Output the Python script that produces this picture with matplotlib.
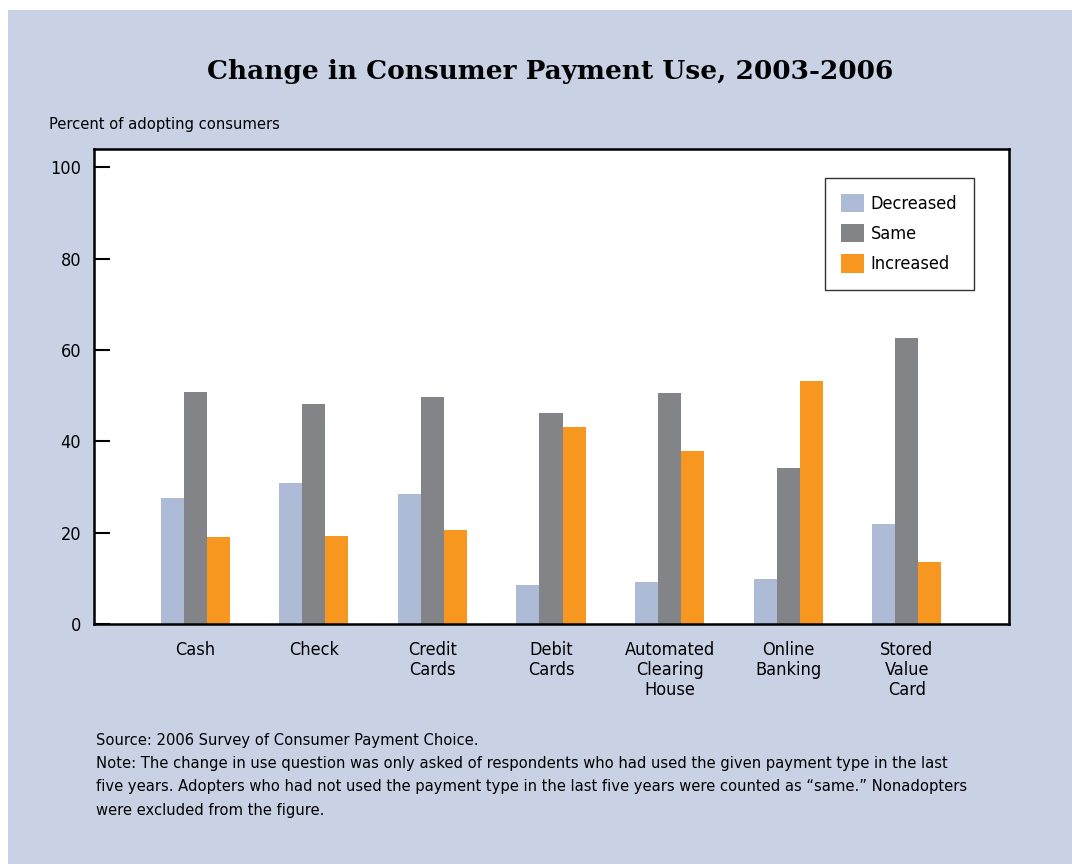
import matplotlib
matplotlib.use("Agg")
import matplotlib.pyplot as plt
from matplotlib.patches import Rectangle
import numpy as np

categories = ["Cash", "Check", "Credit\nCards", "Debit\nCards",
              "Automated\nClearing\nHouse", "Online\nBanking", "Stored\nValue\nCard"]
decreased = [27.6, 30.8, 28.4, 8.5, 9.2, 9.9, 21.9]
same = [50.8, 48.1, 49.7, 46.2, 50.6, 34.2, 62.7]
increased = [19.0, 19.3, 20.5, 43.1, 37.9, 53.2, 13.5]
series_names = ["Decreased", "Same", "Increased"]
yticks = [0, 20, 40, 60, 80, 100]

colors = ["#ADBBD6", "#838488", "#F7971F"]
bg = "#C9D2E5"
plt.rcParams['font.family'] = ["DejaVu Sans"]
plt.rcParams['font.stretch'] = 'condensed'

W, H = 1072, 864
fig = plt.figure(figsize=(W / 100, H / 100), dpi=100)
fig.patch.set_facecolor("white")
fig.patches.append(Rectangle((8 / W, 0), 1 - 8 / W, 1 - 10 / H, transform=fig.transFigure,
                             facecolor=bg, edgecolor="none", zorder=-10))

ax = fig.add_axes([93.7 / W, 1 - 624 / H, (1009 - 93.7) / W, (624 - 148.6) / H])
ax.set_facecolor("white")

x = np.arange(len(categories))
bw = 0.194
for i, (vals, c, name) in enumerate(zip([decreased, same, increased], colors, series_names)):
    ax.bar(x + (i - 1) * bw, vals, width=bw, color=c, label=name, linewidth=0)

ax.set_xlim(-0.854, 6.86)
ax.set_ylim(0, 104.1)
ax.set_yticks(yticks)
ax.set_yticklabels([str(t) for t in yticks], fontsize=13)
ax.set_xticks(x)
ax.set_xticklabels(categories, fontsize=13, va="top", linespacing=1.15)
ax.tick_params(axis="x", length=0, pad=12)
ax.tick_params(axis="y", direction="in", length=11.5, width=1.5, pad=9)
for s in ax.spines.values():
    s.set_linewidth(1.8)
    s.set_color("black")

leg = ax.legend(loc="upper left", bbox_to_anchor=(829 / W, 1 - 177.5 / H),
                bbox_transform=fig.transFigure, borderaxespad=0, fontsize=13,
                frameon=True, fancybox=False, edgecolor="black",
                handlelength=1.25, handleheight=1.2, labelspacing=0.6,
                borderpad=0.9, handletextpad=0.4)
leg.get_frame().set_linewidth(1.0)
leg.get_frame().set_facecolor("white")
leg.set_bbox_to_anchor((824.7 / W, 1 - 177.5 / H), transform=fig.transFigure)

fig.text(0.513, 1 - 71 / H, "Change in Consumer Payment Use, 2003-2006",
         ha="center", va="center", fontsize=19, fontweight="bold",
         family=["DejaVu Serif"], stretch="normal")
fig.text(49 / W, 1 - 125 / H, "Percent of adopting consumers", ha="left", va="center",
         fontsize=11.8)

notes = ["Source: 2006 Survey of Consumer Payment Choice.",
         "Note: The change in use question was only asked of respondents who had used the given payment type in the last",
         "five years. Adopters who had not used the payment type in the last five years were counted as \u201csame.\u201d Nonadopters",
         "were excluded from the figure."]
for k, line in enumerate(notes):
    fig.text(96 / W, 1 - (740 + 23.5 * k) / H, line, ha="left", va="center", fontsize=11.8)

fig.savefig("out.png", dpi=100, facecolor=fig.get_facecolor())
